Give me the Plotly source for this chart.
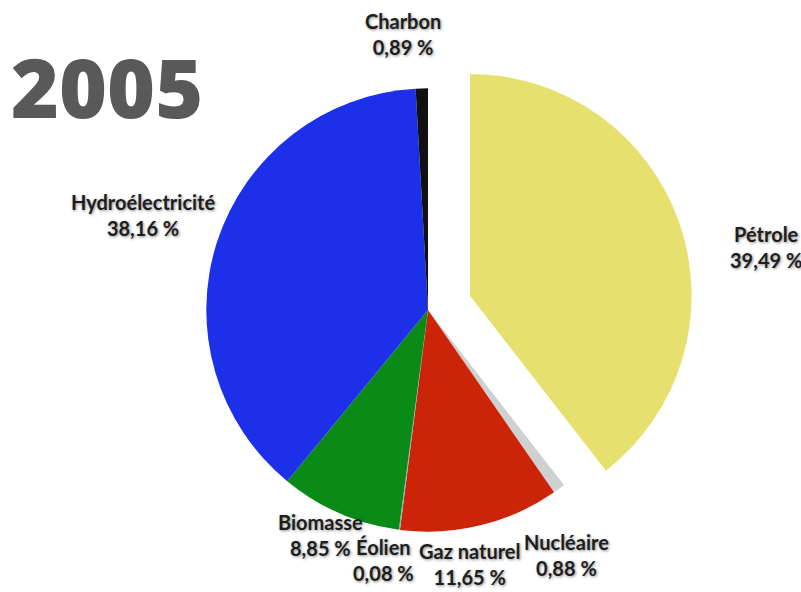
import plotly.graph_objects as go

# Energy mix, 2005 (share of total, %)
sources = ["Pétrole", "Nucléaire", "Gaz naturel", "Éolien", "Biomasse",
           "Hydroélectricité", "Charbon"]
shares = [39.49, 0.88, 11.65, 0.08, 8.85, 38.16, 0.89]
colors = ["#e6e16e", "#cfd0d2", "#cc2408", "#8fb0cc", "#0a8a16",
          "#1c30ea", "#101010"]
pulls = [0.2, 0, 0, 0, 0, 0, 0]
year = "2005"

W, H = 801, 592

# label anchor points in pixels (x, y from top)
label_pos = {
    "Pétrole": (766, 247),
    "Nucléaire": (566, 555),
    "Gaz naturel": (470, 564),
    "Éolien": (383, 560),
    "Biomasse": (320, 535),
    "Hydroélectricité": (143, 215),
    "Charbon": (403, 34),
}

fig = go.Figure(go.Pie(
    labels=sources,
    values=shares,
    marker=dict(colors=colors, line=dict(width=0)),
    pull=pulls,
    sort=False,
    direction="clockwise",
    rotation=0,
    textinfo="none",
    hoverinfo="label+percent",
    domain=dict(x=[162 / W, 694 / W], y=[16 / H, 548 / H]),
    showlegend=False,
))

label_font = dict(family="Lato, Open Sans, sans-serif", size=20,
                  color="#1e1e1e", weight="bold",
                  shadow="1px 1px 3px rgba(0,0,0,0.45)")

for name, val in zip(sources, shares):
    px, py = label_pos[name]
    txt = f"{name}<br>{val:.2f}".replace(".", ",") + " %"
    fig.add_annotation(
        x=px / W, y=1 - py / H, xref="paper", yref="paper",
        text=txt, showarrow=False, xanchor="center", yanchor="middle",
        align="center", font=label_font,
    )

fig.add_annotation(
    x=107 / W, y=1 - 86 / H, xref="paper", yref="paper",
    text=year, showarrow=False, xanchor="center", yanchor="middle",
    font=dict(family="Open Sans, Lato, sans-serif", size=82, color="#595959",
              weight=800),
)

fig.update_layout(
    width=W, height=H,
    margin=dict(l=0, r=0, t=0, b=0),
    paper_bgcolor="white",
    plot_bgcolor="white",
)

fig.write_html("out.html")
